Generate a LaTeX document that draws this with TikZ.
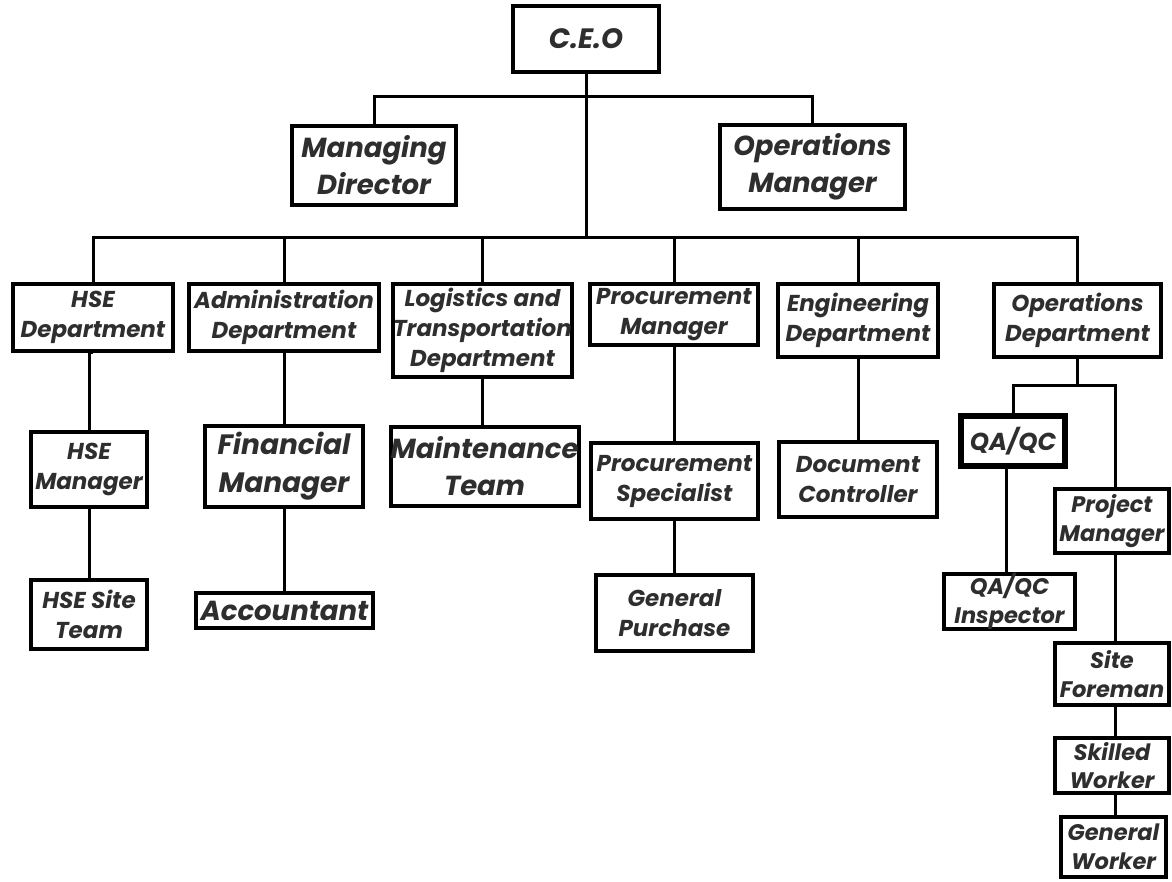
\documentclass[tikz,border=0pt]{standalone}
\usepackage{fontspec}
\setmainfont{Poppins}
\begin{document}
\begin{tikzpicture}[x=1pt,y=-1pt,
  box/.style={draw=black, line width=4pt, fill=white, inner sep=0pt, align=center,
    text=black!82, font=\bfseries\itshape\fontsize{23}{30}\selectfont},
  big/.style={font=\bfseries\itshape\fontsize{27.5}{37}\selectfont},
  small/.style={font=\bfseries\itshape\fontsize{22.5}{28.5}\selectfont},
  conn/.style={draw=black, line width=3pt}]
\useasboundingbox (0,0) rectangle (1172,882);
\fill[white] (0,0) rectangle (1172,882);
% nodes
\node[box, font=\bfseries\itshape\fontsize{28}{34}\selectfont, minimum width=146pt, minimum height=66pt] (ceo) at (586,39) {C.E.O};
\node[box, big, minimum width=164pt, minimum height=79pt] (md) at (374,165.5) {Managing\\Director};
\node[box, big, minimum width=185pt, minimum height=84pt] (om) at (812.5,167) {Operations\\Manager};
\node[box, minimum width=160pt, minimum height=67pt] (hse) at (93,317.5) {HSE\\Department};
\node[box, minimum width=190pt, minimum height=67pt] (adm) at (284,317.5) {Administration\\Department};
\node[box, minimum width=175pt, minimum height=93pt] (log) at (482.5,330.5) {Logistics and\\Transportation\\Department};
\node[box, minimum width=168pt, minimum height=61pt] (prm) at (674,314.5) {Procurement\\Manager};
\node[box, minimum width=160pt, minimum height=73pt] (eng) at (858,320.5) {Engineering\\Department};
\node[box, minimum width=167pt, minimum height=73pt] (opd) at (1077.5,320.5) {Operations\\Department};
\node[box, minimum width=116pt, minimum height=75pt] (hsem) at (89,469.5) {HSE\\Manager};
\node[box, big, font=\bfseries\itshape\fontsize{28}{38}\selectfont, minimum width=158pt, minimum height=81pt] (fin) at (284,466.5) {Financial\\Manager};
\node[box, big, minimum width=187pt, minimum height=79pt] (mnt) at (484.5,466.5) {Maintenance\\Team};
\node[box, minimum width=167pt, minimum height=76pt] (prs) at (674.5,481) {Procurement\\Specialist};
\node[box, minimum width=158pt, minimum height=75pt] (doc) at (858,479.5) {Document\\Controller};
\node[box, minimum width=116pt, minimum height=69pt] (hsst) at (89,614.5) {HSE Site\\Team};
\node[box, big, minimum width=177pt, minimum height=35pt] (acc) at (284.5,610.5) {Accountant};
\node[box, minimum width=157pt, minimum height=76pt] (gp) at (674.5,613) {General\\Purchase};
\node[box, line width=6pt, font=\bfseries\itshape\fontsize{24.5}{30}\selectfont, minimum width=104pt, minimum height=50pt] (qa) at (1013,441) {QA/QC};
\node[box, small, minimum width=114pt, minimum height=64pt] (pm) at (1112,521) {Project\\Manager};
\node[box, small, minimum width=131pt, minimum height=55pt] (qai) at (1009.5,601.5) {QA/QC\\Inspector};
\node[box, small, minimum width=114pt, minimum height=62pt] (sf) at (1112,674) {Site\\Foreman};
\node[box, small, minimum width=114pt, minimum height=55pt] (sw) at (1112,765.5) {Skilled\\Worker};
\node[box, small, minimum width=105pt, minimum height=60pt] (gw) at (1113.5,847) {General\\Worker};
% junctions
\coordinate (ju) at (ceo.south |- 0,97);
\coordinate (jl) at (ceo.south |- 0,238);
\coordinate (jo) at (opd.south |- 0,385);
% connectors
\draw[conn] (ceo.south) -- (jl);
\draw[conn] (md.north) |- (ju) -| (om.north);
\draw[conn] (hse.north) |- (jl) -| (opd.north);
\draw[conn] (adm.north) -- (adm.north |- jl);
\draw[conn] (log.north) -- (log.north |- jl);
\draw[conn] (prm.north) -- (prm.north |- jl);
\draw[conn] (eng.north) -- (eng.north |- jl);
\draw[conn] (hse.south) -- (hsem.north |- hse.south) -- (hsem.north);
\draw[conn] (hsem.south) -- (hsst.north);
\draw[conn] (adm.south) -- (fin.north);
\draw[conn] (fin.south) -- (acc.north -| fin.south);
\draw[conn] (log.south) -- (log.south |- mnt.north);
\draw[conn] (prm.south) -- (prm.south |- prs.north);
\draw[conn] (prs.south) -- (prs.south |- gp.north);
\draw[conn] (eng.south) -- (doc.north);
\draw[conn] (opd.south) -- (jo);
\draw[conn] (qa.north) |- (jo) -| ([xshift=3pt]pm.north);
\draw[conn] ([xshift=-7pt]qa.south) -- ([xshift=-7pt]qa.south |- qai.north);
\draw[conn] ([xshift=3pt]pm.south) -- ([xshift=3pt]pm.south |- sf.north);
\draw[conn] ([xshift=3pt]sf.south) -- ([xshift=3pt]sf.south |- sw.north);
\draw[conn] ([xshift=3pt]sw.south) -- ([xshift=3pt]sw.south |- gw.north);
\end{tikzpicture}
\end{document}
